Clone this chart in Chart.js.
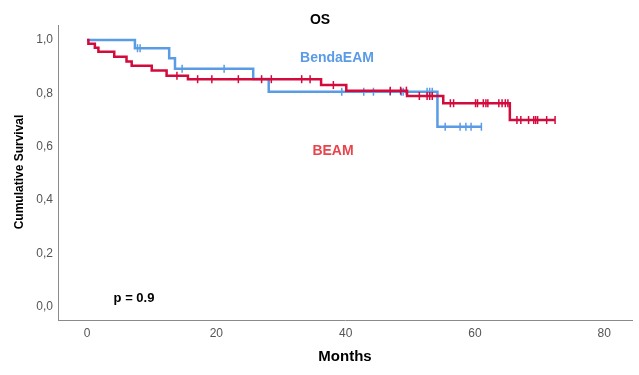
<!DOCTYPE html>
<html>
<head>
<meta charset="utf-8">
<script src="https://cdn.jsdelivr.net/npm/chart.js@4"></script>
<style>
  html, body { margin: 0; padding: 0; background: #fff; }
  #wrap { width: 639px; height: 375px; }
</style>
</head>
<body>
<div id="wrap"><canvas id="kmChart" width="639" height="375"></canvas></div>
<script>
// Kaplan-Meier steps (months, survival)
const beamTimes = [0, 0.2, 1.2, 1.75, 4.2, 6.1, 6.9, 10.0, 12.3, 15.6, 36.2, 40.1, 49.5, 55.1, 65.4, 72.4];
const beamSurv  = [1, 0.986, 0.971, 0.956, 0.937, 0.919, 0.903, 0.886, 0.866, 0.853, 0.831, 0.81, 0.79, 0.763, 0.70, 0.70];
const beamCensored = [13.9, 17.1, 19.3, 23.4, 27.0, 28.5, 33.2, 34.5, 38.1, 46.9, 48.5, 49.4, 51.4, 52.6, 53.0, 53.4,
                      56.2, 56.7, 60.1, 60.4, 61.3, 61.7, 62.0, 63.7, 64.2, 64.7, 65.1, 66.5, 67.1, 68.3, 69.1, 69.4, 69.7, 71.1, 72.4];

const bendaTimes = [0, 7.4, 12.7, 13.6, 25.7, 28.1, 54.2, 61.0];
const bendaSurv  = [1, 0.969, 0.931, 0.892, 0.854, 0.806, 0.675, 0.675];
const bendaCensored = [7.8, 8.2, 14.7, 21.2, 39.4, 42.8, 44.3, 46.9, 48.6, 48.9, 52.6, 53.0, 53.4, 55.4, 57.7, 58.6, 59.4, 61.0];

const xTicks = [0, 20, 40, 60, 80];
const yTicks = [0, 0.2, 0.4, 0.6, 0.8, 1.0];

const BLUE = '#5a9be6';
const RED = '#d30a3c';

function survAt(times, surv, t) {
    let s = surv[0];
    for (let i = 0; i < times.length; i++) {
        if (times[i] <= t) s = surv[i];
    }
    return s;
}

function stepData(times, surv) {
    return times.map((t, i) => ({x: t, y: surv[i]}));
}

function censorData(times, surv, cens) {
    return cens.map(t => ({x: t, y: survAt(times, surv, t)}));
}

const textPlugin = {
    id: 'kmText',
    afterDraw: chart => {
        const { ctx } = chart;
        ctx.save();
        ctx.textAlign = 'center';
        ctx.textBaseline = 'middle';
        ctx.fillStyle = '#000';
        ctx.font = 'bold 14px "Liberation Sans", Arial, sans-serif';
        ctx.fillText('OS', 320, 20);
        ctx.font = 'bold 15px "Liberation Sans", Arial, sans-serif';
        ctx.fillText('Months', 345, 357);
        ctx.font = 'bold 13px "Liberation Sans", Arial, sans-serif';
        ctx.fillText('p = 0.9', 134, 298);
        ctx.font = 'bold 14px "Liberation Sans", Arial, sans-serif';
        ctx.fillStyle = BLUE;
        ctx.fillText('BendaEAM', 337, 58);
        ctx.fillStyle = '#e8444c';
        ctx.fillText('BEAM', 333, 151);
        ctx.translate(20, 172);
        ctx.rotate(-Math.PI / 2);
        ctx.fillStyle = '#000';
        ctx.font = 'bold 12px "Liberation Sans", Arial, sans-serif';
        ctx.fillText('Cumulative Survival', 0, 0);
        ctx.restore();
    }
};

new Chart(document.getElementById('kmChart'), {
    type: 'line',
    data: {
        datasets: [
            {
                label: 'BEAM',
                data: stepData(beamTimes, beamSurv),
                borderColor: RED,
                borderWidth: 2.5,
                stepped: true,
                pointRadius: 0,
                fill: false
            },
            {
                label: 'BEAM censored',
                data: censorData(beamTimes, beamSurv, beamCensored),
                showLine: false,
                pointStyle: 'line',
                rotation: 90,
                pointRadius: 4,
                pointBorderWidth: 1.5,
                borderColor: RED,
                backgroundColor: RED
            },
            {
                label: 'BendaEAM',
                data: stepData(bendaTimes, bendaSurv),
                borderColor: BLUE,
                borderWidth: 2.5,
                stepped: true,
                pointRadius: 0,
                fill: false
            },
            {
                label: 'BendaEAM censored',
                data: censorData(bendaTimes, bendaSurv, bendaCensored),
                showLine: false,
                pointStyle: 'line',
                rotation: 90,
                pointRadius: 4,
                pointBorderWidth: 1.5,
                borderColor: BLUE,
                backgroundColor: BLUE
            }
        ]
    },
    options: {
        responsive: false,
        animation: false,
        layout: { padding: { top: 25, right: 7, left: 0, bottom: 0 } },
        plugins: {
            legend: { display: false },
            tooltip: { enabled: false },
            title: { display: false }
        },
        scales: {
            x: {
                type: 'linear',
                min: -4.5,
                max: 84.3,
                grid: { display: false, drawTicks: false },
                border: { display: true, color: '#8a8a8a', width: 1 },
                afterBuildTicks: scale => { scale.ticks = xTicks.map(v => ({value: v})); },
                afterFit: scale => { scale.height = 55; },
                ticks: {
                    padding: 6,
                    color: '#555',
                    font: { family: '"Liberation Sans", Arial, sans-serif', size: 12 },
                    maxRotation: 0
                }
            },
            y: {
                type: 'linear',
                min: -0.049,
                max: 1.056,
                grid: { display: false, drawTicks: false },
                border: { display: true, color: '#8a8a8a', width: 1 },
                afterBuildTicks: scale => { scale.ticks = yTicks.map(v => ({value: v})); },
                afterFit: scale => { scale.width = 58; },
                ticks: {
                    padding: 5,
                    color: '#555',
                    font: { family: '"Liberation Sans", Arial, sans-serif', size: 12 },
                    callback: v => v.toFixed(1).replace('.', ',')
                }
            }
        }
    },
    plugins: [textPlugin]
});
</script>
</body>
</html>
